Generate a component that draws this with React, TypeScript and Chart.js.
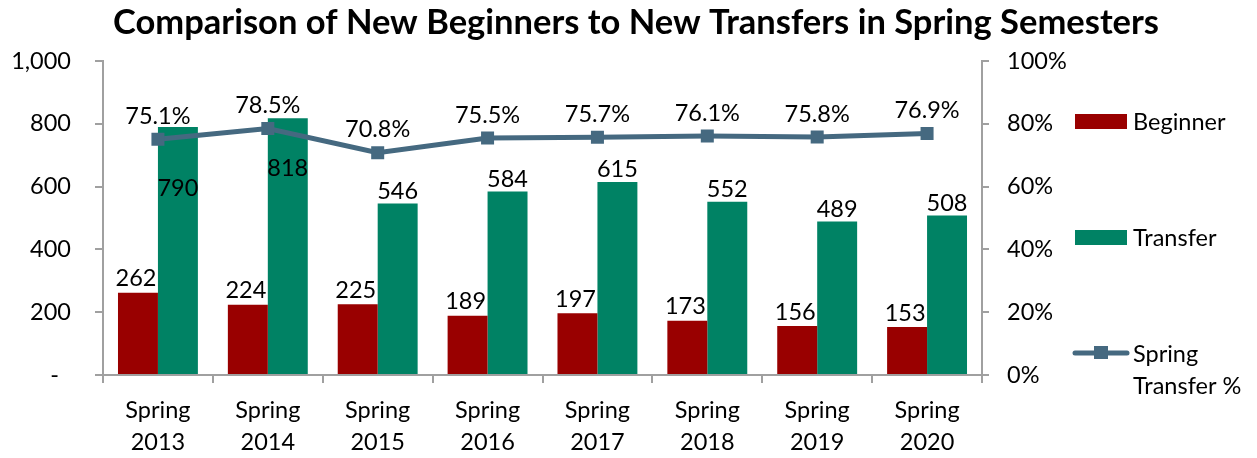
import React, { useEffect, useRef } from 'react';
import { Chart, registerables } from 'chart.js';

Chart.register(...registerables);

const categories = [
  ['Spring', '2013'],
  ['Spring', '2014'],
  ['Spring', '2015'],
  ['Spring', '2016'],
  ['Spring', '2017'],
  ['Spring', '2018'],
  ['Spring', '2019'],
  ['Spring', '2020'],
];
const beginners = [262, 224, 225, 189, 197, 173, 156, 153];
const transfers = [790, 818, 546, 584, 615, 552, 489, 508];
const transferPct = [75.1, 78.5, 70.8, 75.5, 75.7, 76.1, 75.8, 76.9];
const countTickLabels = ['-  ', '200', '400', '600', '800', '1,000'];
const pctTickLabels = ['0%', '20%', '40%', '60%', '80%', '100%'];
const chartTitle = 'Comparison of New Beginners to New Transfers in Spring Semesters';
const legendLines = [['Beginner'], ['Transfer'], ['Spring', 'Transfer %']];

// label placement tweaks (style only)
const transferLabelShift = [73, 62, 0, 0, 0, 0, 0, 0];

const FONT = 'Lato, "Open Sans", sans-serif';
const FS = 23.5;
const RED = '#990000';
const GREEN = '#008264';
const LINE = '#456980';
const GRAY = '#A0A0A0';
const TXT = '#000000';

const W = 1257;
const H = 458;

export default function App() {
  const ref = useRef<HTMLCanvasElement | null>(null);

  useEffect(() => {
    if (!ref.current) return;

    const overlay = {
      id: 'overlay',
      afterDatasetsDraw(chart: any) {
        const ctx = chart.ctx as CanvasRenderingContext2D;
        ctx.save();
        ctx.fillStyle = TXT;
        ctx.textAlign = 'center';
        ctx.textBaseline = 'middle';
        ctx.font = `${FS}px ${FONT}`;
        const lineMeta = chart.getDatasetMeta(0);
        const begMeta = chart.getDatasetMeta(1);
        const trMeta = chart.getDatasetMeta(2);
        begMeta.data.forEach((el: any, i: number) => {
          ctx.fillText(String(beginners[i]), el.x - 2, el.y - 14);
        });
        trMeta.data.forEach((el: any, i: number) => {
          ctx.fillText(String(transfers[i]), el.x, el.y - 12 + transferLabelShift[i]);
        });
        lineMeta.data.forEach((el: any, i: number) => {
          ctx.fillText(transferPct[i].toFixed(1) + '%', el.x, el.y - 23);
        });
        ctx.restore();
      },
      afterDraw(chart: any) {
        const ctx = chart.ctx as CanvasRenderingContext2D;
        ctx.save();
        // title
        ctx.fillStyle = TXT;
        ctx.textAlign = 'center';
        ctx.textBaseline = 'alphabetic';
        ctx.font = `bold 32px ${FONT}`;
        const w = ctx.measureText(chartTitle).width;
        const size = Math.min(34.5, (32 * 1055) / w);
        ctx.font = `bold ${size}px ${FONT}`;
        ctx.fillText(chartTitle, 636, 34);

        // legend
        ctx.font = `${FS}px ${FONT}`;
        ctx.textAlign = 'left';
        ctx.textBaseline = 'middle';
        const ds = chart.data.datasets;
        ctx.fillStyle = ds[1].backgroundColor;
        ctx.fillRect(1075, 114, 52, 15);
        ctx.fillStyle = ds[2].backgroundColor;
        ctx.fillRect(1075, 230, 52, 15);
        ctx.strokeStyle = ds[0].borderColor;
        ctx.lineWidth = 5;
        ctx.lineCap = 'round';
        ctx.beginPath();
        ctx.moveTo(1075, 353);
        ctx.lineTo(1127, 353);
        ctx.stroke();
        ctx.fillStyle = ds[0].borderColor;
        ctx.fillRect(1094, 346, 14, 13);
        ctx.fillStyle = TXT;
        ctx.fillText(legendLines[0][0], 1133, 122);
        ctx.fillText(legendLines[1][0], 1133, 238);
        ctx.fillText(legendLines[2][0], 1133, 354);
        ctx.fillText(legendLines[2][1], 1133, 386);
        ctx.restore();
      },
    };

    const tickFont = { family: FONT, size: FS, lineHeight: 32 / FS };

    const chart = new Chart(ref.current, {
      type: 'bar',
      data: {
        labels: categories as any,
        datasets: [
          {
            type: 'line',
            label: 'Spring Transfer %',
            data: transferPct,
            yAxisID: 'y1',
            borderColor: LINE,
            backgroundColor: LINE,
            borderWidth: 5,
            pointStyle: 'rect',
            pointRadius: 9.2,
            pointBorderWidth: 0,
            pointBackgroundColor: LINE,
            tension: 0,
            order: 0,
          } as any,
          {
            type: 'bar',
            label: 'Beginner',
            data: beginners,
            yAxisID: 'y',
            backgroundColor: RED,
            categoryPercentage: 80 / 110,
            barPercentage: 1,
            order: 1,
          },
          {
            type: 'bar',
            label: 'Transfer',
            data: transfers,
            yAxisID: 'y',
            backgroundColor: GREEN,
            categoryPercentage: 80 / 110,
            barPercentage: 1,
            order: 1,
          },
        ],
      },
      options: {
        responsive: false,
        animation: false,
        devicePixelRatio: 1,
        layout: { padding: { top: 61, left: 0, right: 165, bottom: 0 } },
        plugins: {
          legend: { display: false },
          title: { display: false },
          tooltip: { enabled: false },
        },
        scales: {
          x: {
            offset: true,
            grid: { offset: true, drawOnChartArea: false, tickLength: 8, color: GRAY, lineWidth: 2 },
            border: { color: GRAY, width: 2 },
            ticks: { font: tickFont, color: TXT, padding: 11, maxRotation: 0, autoSkip: false },
            afterFit: (s: any) => {
              s.height = 83;
            },
          },
          y: {
            position: 'left',
            min: 0,
            max: 1000,
            grid: { drawOnChartArea: false, tickLength: 8, color: GRAY, lineWidth: 2 },
            border: { color: GRAY, width: 2 },
            ticks: {
              stepSize: 200,
              font: tickFont,
              color: TXT,
              padding: 24,
              callback: (_v: any, i: number) => countTickLabels[i],
            },
            afterFit: (s: any) => {
              s.width = 103;
            },
          },
          y1: {
            position: 'right',
            min: 0,
            max: 100,
            grid: { drawOnChartArea: false, tickLength: 7, color: GRAY, lineWidth: 2 },
            border: { color: GRAY, width: 2 },
            ticks: {
              stepSize: 20,
              font: tickFont,
              color: TXT,
              padding: 18,
              callback: (_v: any, i: number) => pctTickLabels[i],
            },
            afterFit: (s: any) => {
              s.width = 110;
            },
          },
        },
      },
      plugins: [overlay],
    });

    return () => chart.destroy();
  }, []);

  return (
    <div style={{ position: 'absolute', left: 0, top: 0, width: W, height: H, background: '#fff' }}>
      <canvas ref={ref} width={W} height={H} style={{ display: 'block', width: W, height: H }} />
    </div>
  );
}
